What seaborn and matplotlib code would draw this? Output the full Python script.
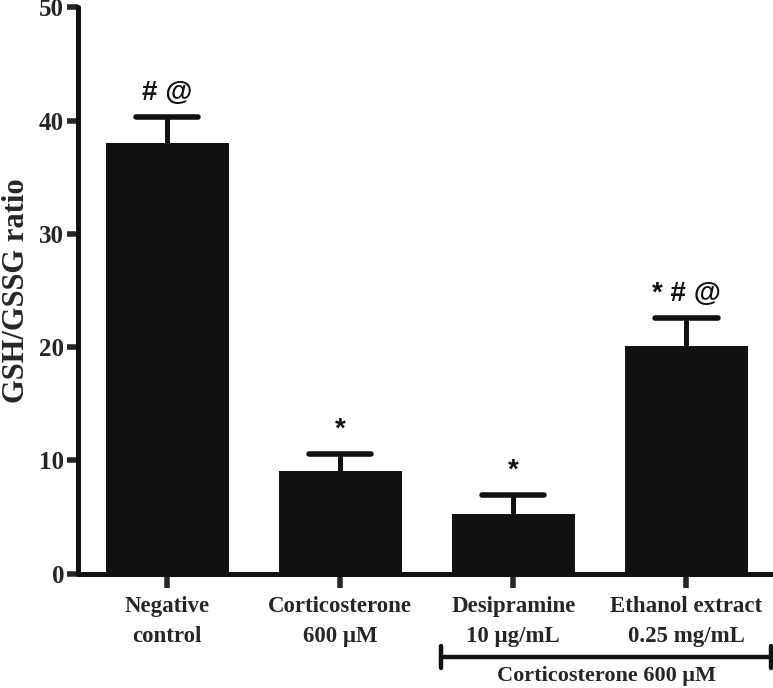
import numpy as np
import pandas as pd
import matplotlib
matplotlib.use("Agg")
import matplotlib.pyplot as plt
import matplotlib.transforms as mtransforms
import seaborn as sns

groups = ["Negative\ncontrol", "Corticosterone\n600 μM", "Desipramine\n10 μg/mL", "Ethanol extract\n0.25 mg/mL"]
ratio_mean = [38.0, 9.1, 5.3, 20.1]
ratio_sem = [2.3, 1.5, 1.6, 2.45]
signif = ["# @", "*", "*", "* # @"]
yticks = [0, 10, 20, 30, 40, 50]

df = pd.DataFrame({"group": groups, "ratio": ratio_mean})

sns.set_theme(style="ticks")
plt.rcParams["font.family"] = ["Liberation Serif", "DejaVu Serif"]
plt.rcParams["font.weight"] = "bold"

fig = plt.figure(figsize=(7.73, 6.88), dpi=100)
ax = fig.add_axes([0.101, 0.1664, 0.899, 0.8227])

sns.barplot(data=df, x="group", y="ratio", color="#111111", saturation=1,
            width=0.71, errorbar=None, linewidth=0, ax=ax, zorder=3)

# only the upper half of the SEM is shown: stem + cap
x = np.arange(len(groups))
tops = np.array(ratio_mean) + np.array(ratio_sem)
ax.vlines(x, ratio_mean, tops, color="#111111", lw=3.6, zorder=2)
ax.hlines(tops, x - 0.18, x + 0.18, color="#111111", lw=4.0, zorder=2,
          capstyle="round")

for xi, t, lab in zip(x, tops, signif):
    ax.text(xi, t + 1.0, lab, ha="center", va="bottom", fontsize=20,
            fontweight="bold", family=["Liberation Sans", "DejaVu Sans"], color="#111111")

ax.set_xlim(-0.514, 3.5)
ax.set_ylim(0, 50)
ax.set_yticks(yticks)
ax.set_xlabel("")
ax.set_ylabel("GSH/GSSG ratio", fontsize=22, fontweight="bold", labelpad=6)
ax.tick_params(axis="y", labelsize=18, length=8, width=4, direction="out", pad=2)
ax.tick_params(axis="x", labelsize=16.5, length=10, width=4, direction="out", pad=6)
for lab in ax.get_xticklabels():
    lab.set_linespacing(1.6)
    lab.set_fontweight("bold")
for lab in ax.get_yticklabels():
    lab.set_fontweight("bold")

for side in ["top", "right"]:
    ax.spines[side].set_visible(False)
for side in ["left", "bottom"]:
    ax.spines[side].set_linewidth(3.6)
    ax.spines[side].set_color("#111111")
    ax.spines[side].set_capstyle("round")

# bracket under the groups that got corticosterone
trans = mtransforms.blended_transform_factory(ax.transData, ax.transAxes)
x0, x1 = 1.584, 3.49
yb = -0.1475
ax.plot([x0, x1], [yb, yb], color="#111111", lw=3.2, transform=trans, clip_on=False)
for xe in (x0, x1):
    ax.plot([xe, xe], [yb - 0.02, yb + 0.02], color="#111111", lw=3.2,
            transform=trans, clip_on=False)
ax.text((x0 + x1) / 2, yb - 0.016, "Corticosterone 600 μM", ha="center", va="top",
        fontsize=16, fontweight="bold", transform=trans)

fig.savefig("out.png", dpi=100)
